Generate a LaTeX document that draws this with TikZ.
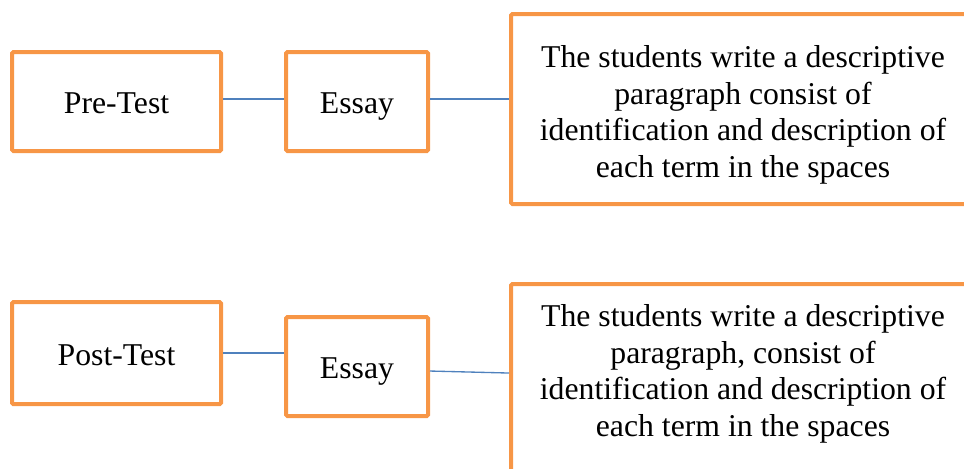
\documentclass[tikz,border=0pt]{standalone}
\usepackage{fontspec}
\setmainfont{Liberation Serif}
\usetikzlibrary{positioning}
\definecolor{boxorange}{HTML}{F79646}
\definecolor{lineblue}{HTML}{4F81BD}

\begin{document}
\begin{tikzpicture}[x=0.75pt,y=-0.75pt,
    box/.style={draw=boxorange,line width=3pt,rounded corners=1pt,
      font=\fontsize{23.8}{27.5}\selectfont,inner sep=0pt,
      text height=24pt,text depth=5.6pt},
    descbox/.style={draw=boxorange,line width=3pt,rounded corners=1pt,
      minimum width=348pt},
    desc/.style={font=\fontsize{23.8}{27.5}\selectfont,align=center,inner sep=0pt},
    link/.style={draw=lineblue,line width=1pt}]
      \path[use as bounding box,clip] (0,0) rectangle (964,468);
      % pre-test row
      \node[box,minimum width=156.75pt,minimum height=74.25pt] (pretest) at (116.5,101.5) {Pre-Test};
      \node[box,minimum width=106.5pt,minimum height=74.25pt] (preessay) at (357,101.5) {Essay};
      \node[descbox,minimum height=142.5pt] (predesc) at (743,109) {};
      \node[desc] (pretext) at (743,115) {The students write a descriptive\\
        paragraph consist of\\
        identification and description of\\
        each term in the spaces};
      \draw[link] ([yshift=1.8pt]pretest.east) -- ([yshift=1.8pt]pretest.east -| preessay.west);
      \draw[link] ([yshift=1.8pt]preessay.east) -- ([yshift=1.8pt]preessay.east -| predesc.west);
      % post-test row
      \node[box,minimum width=156.75pt,minimum height=76.5pt] (posttest) at (116.5,353) {Post-Test};
      \node[box,minimum width=106.5pt,minimum height=74.25pt] (postessay) at (357,366.5) {Essay};
      \node[descbox,minimum height=147pt] (postdesc) at (743,382) {};
      \node[desc] (posttext) at (743,374) {The students write a descriptive\\
        paragraph, consist of\\
        identification and description of\\
        each term in the spaces};
      \draw[link] (posttest.east) -- (posttest.east -| postessay.west);
      \draw[link] ([yshift=-3.4pt]postessay.east) -- ([yshift=-4.9pt]postessay.east -| postdesc.west);
\end{tikzpicture}
\end{document}
